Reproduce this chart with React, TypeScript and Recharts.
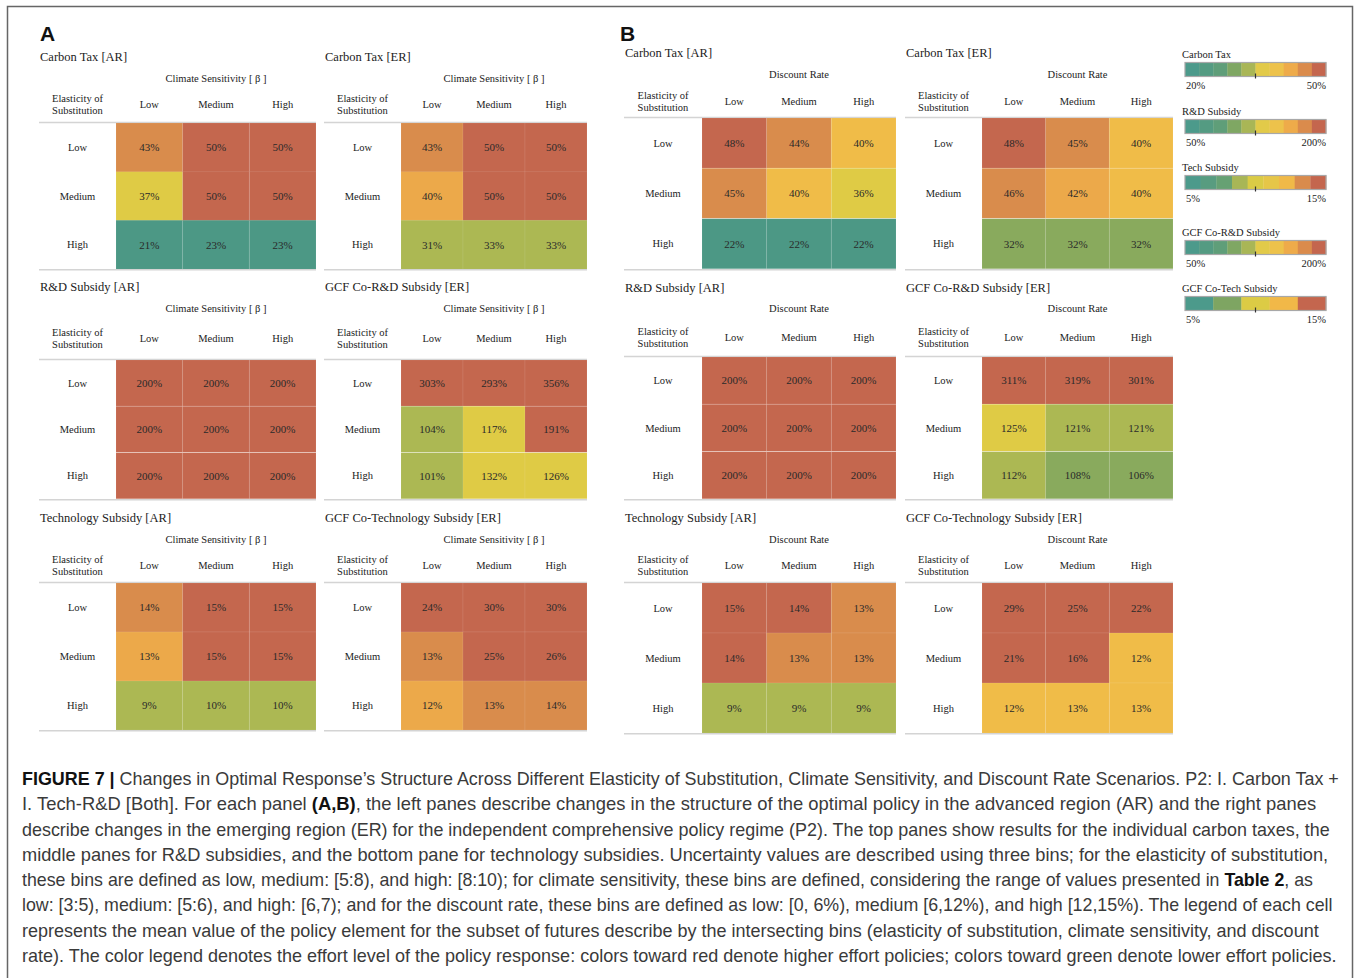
import React from "react"
import { Bar, BarChart, Cell, LabelList, XAxis, YAxis } from "recharts"

// bins shared by every pane
const rowBins = ["Low", "Medium", "High"]
const colBins = ["Low", "Medium", "High"]

// panel A: elasticity of substitution x climate sensitivity
const carbonTaxAR_A = [[43, 50, 50], [37, 50, 50], [21, 23, 23]]
const carbonTaxER_A = [[43, 50, 50], [40, 50, 50], [31, 33, 33]]
const rdSubsidyAR_A = [[200, 200, 200], [200, 200, 200], [200, 200, 200]]
const gcfRdER_A = [[303, 293, 356], [104, 117, 191], [101, 132, 126]]
const techSubsidyAR_A = [[14, 15, 15], [13, 15, 15], [9, 10, 10]]
const gcfTechER_A = [[24, 30, 30], [13, 25, 26], [12, 13, 14]]

// panel B: elasticity of substitution x discount rate
const carbonTaxAR_B = [[48, 44, 40], [45, 40, 36], [22, 22, 22]]
const carbonTaxER_B = [[48, 45, 40], [46, 42, 40], [32, 32, 32]]
const rdSubsidyAR_B = [[200, 200, 200], [200, 200, 200], [200, 200, 200]]
const gcfRdER_B = [[311, 319, 301], [125, 121, 121], [112, 108, 106]]
const techSubsidyAR_B = [[15, 14, 13], [14, 13, 13], [9, 9, 9]]
const gcfTechER_B = [[29, 25, 22], [21, 16, 12], [12, 13, 13]]

const palette = [
  "#4c9885", "#559b80", "#62a076", "#89aa5d", "#acb853",
  "#dfcb45", "#f0bc48", "#eca94a", "#d98c4c", "#c4674e",
]
const legendTen = [
  "#4c9a8b", "#549b82", "#5f9e79", "#7fa763", "#a9b656",
  "#e2ca49", "#edc24b", "#eeab4a", "#da8b4c", "#c4664e",
]
const legendNine = [
  "#4c9a8b", "#589c80", "#66a173", "#a8b656", "#dacb45",
  "#e6c648", "#f0b948", "#d98b4c", "#c4664e",
]
const legendFive = ["#4c9a8b", "#7ea562", "#dccb45", "#f1b848", "#c4664e"]

const SERIF = "'Liberation Serif', 'DejaVu Serif', serif"
const SANS = "'Liberation Sans', Arial, sans-serif"
const CAP_SIZE = 18

// stepped colour scale, one of ten bins between lo and hi
const colorFor = (v: number, lo: number, hi: number) => {
  const t = Math.round(((v - lo) / (hi - lo)) * 9)
  return palette[Math.max(0, Math.min(9, t))]
}

const ctx = typeof document !== "undefined" ? document.createElement("canvas").getContext("2d") : null
const measure = (t: string, bold?: boolean) => {
  if (!ctx) return t.length * CAP_SIZE * 0.5
  ctx.font = `${bold ? "bold " : ""}${CAP_SIZE}px 'Liberation Sans', Arial, sans-serif`
  return ctx.measureText(t).width
}

type PaneDef = {
  x0: number
  cx0: number
  cx1: number
  yTitle: number
  yAxis: number
  yHead: number
  yLine: number
  yBottom: number
  title: string
  axisTitle: string
  values: number[][]
  domain: [number, number]
}

const colA1 = { x0: 39, cx0: 116, cx1: 316 }
const colA2 = { x0: 324, cx0: 401, cx1: 587 }
const colB1 = { x0: 624, cx0: 702, cx1: 896 }
const colB2 = { x0: 905, cx0: 982, cx1: 1173 }
const rowA1 = { yTitle: 57, yAxis: 78, yHead: 104, yLine: 123, yBottom: 269 }
const rowA2 = { yTitle: 287, yAxis: 308, yHead: 338, yLine: 360, yBottom: 499 }
const rowA3 = { yTitle: 518, yAxis: 539, yHead: 565, yLine: 583, yBottom: 730 }
const rowB1 = { yTitle: 53, yAxis: 74, yHead: 101, yLine: 118, yBottom: 269 }
const rowB2 = { yTitle: 288, yAxis: 308, yHead: 337, yLine: 357, yBottom: 499 }
const rowB3 = { yTitle: 518, yAxis: 539, yHead: 565, yLine: 583, yBottom: 733 }

const CS = "Climate Sensitivity [ \u03b2 ]"
const DR = "Discount Rate"

const panes: PaneDef[] = [
  { ...colA1, ...rowA1, title: "Carbon Tax [AR]", axisTitle: CS, values: carbonTaxAR_A, domain: [27, 45] },
  { ...colA2, ...rowA1, title: "Carbon Tax [ER]", axisTitle: CS, values: carbonTaxER_A, domain: [22, 44.5] },
  { ...colA1, ...rowA2, title: "R&D Subsidy [AR]", axisTitle: CS, values: rdSubsidyAR_A, domain: [50, 200] },
  { ...colA2, ...rowA2, title: "GCF Co-R&D Subsidy [ER]", axisTitle: CS, values: gcfRdER_A, domain: [33.4, 197] },
  { ...colA1, ...rowA3, title: "Technology Subsidy [AR]", axisTitle: CS, values: techSubsidyAR_A, domain: [5.05, 15.05] },
  { ...colA2, ...rowA3, title: "GCF Co-Technology Subsidy [ER]", axisTitle: CS, values: gcfTechER_A, domain: [2.14, 15] },
  { ...colB1, ...rowB1, title: "Carbon Tax [AR]", axisTitle: DR, values: carbonTaxAR_B, domain: [24.25, 46.75] },
  { ...colB2, ...rowB1, title: "Carbon Tax [ER]", axisTitle: DR, values: carbonTaxER_B, domain: [22.3, 48] },
  { ...colB1, ...rowB2, title: "R&D Subsidy [AR]", axisTitle: DR, values: rdSubsidyAR_B, domain: [50, 200] },
  { ...colB2, ...rowB2, title: "GCF Co-R&D Subsidy [ER]", axisTitle: DR, values: gcfRdER_B, domain: [76.5, 166.5] },
  { ...colB1, ...rowB3, title: "Technology Subsidy [AR]", axisTitle: DR, values: techSubsidyAR_B, domain: [5, 14] },
  { ...colB2, ...rowB3, title: "GCF Co-Technology Subsidy [ER]", axisTitle: DR, values: gcfTechER_B, domain: [5, 16.25] },
]

const legends = [
  { title: "Carbon Tax", lo: "20%", hi: "50%", colors: legendTen, y: 54 },
  { title: "R&D Subsidy", lo: "50%", hi: "200%", colors: legendTen, y: 111 },
  { title: "Tech Subsidy", lo: "5%", hi: "15%", colors: legendNine, y: 167 },
  { title: "GCF Co-R&D Subsidy", lo: "50%", hi: "200%", colors: legendTen, y: 232 },
  { title: "GCF Co-Tech Subsidy", lo: "5%", hi: "15%", colors: legendFive, y: 288 },
]

type Seg = { t: string; b?: boolean }
const caption: { segs: Seg[]; end: number }[] = [
  {
    segs: [
      { t: "FIGURE 7 |", b: true },
      { t: " Changes in Optimal Response\u2019s Structure Across Different Elasticity of Substitution, Climate Sensitivity, and Discount Rate Scenarios. P2: I. Carbon Tax +" },
    ],
    end: 1341,
  },
  {
    segs: [
      { t: "I. Tech-R&D [Both]. For each panel " },
      { t: "(A,B)", b: true },
      { t: ", the left panes describe changes in the structure of the optimal policy in the advanced region (AR) and the right panes" },
    ],
    end: 1317,
  },
  {
    segs: [{ t: "describe changes in the emerging region (ER) for the independent comprehensive policy regime (P2). The top panes show results for the individual carbon taxes, the" }],
    end: 1331,
  },
  {
    segs: [{ t: "middle panes for R&D subsidies, and the bottom pane for technology subsidies. Uncertainty values are described using three bins; for the elasticity of substitution," }],
    end: 1329,
  },
  {
    segs: [
      { t: "these bins are defined as low, medium: [5:8), and high: [8:10); for climate sensitivity, these bins are defined, considering the range of values presented in " },
      { t: "Table 2", b: true },
      { t: ", as" },
    ],
    end: 1314,
  },
  {
    segs: [{ t: "low: [3:5), medium: [5:6), and high: [6,7); and for the discount rate, these bins are defined as low: [0, 6%), medium [6,12%), and high [12,15%). The legend of each cell" }],
    end: 1334,
  },
  {
    segs: [{ t: "represents the mean value of the policy element for the subset of futures describe by the intersecting bins (elasticity of substitution, climate sensitivity, and discount" }],
    end: 1319,
  },
  {
    segs: [{ t: "rate). The color legend denotes the effort level of the policy response: colors toward red denote higher effort policies; colors toward green denote lower effort policies." }],
    end: 1338,
  },
]
const captionY = [779, 804, 830, 855, 880, 905, 931, 956]

const HEAD_H = 40

const Pane = ({ p }: { p: PaneDef }) => {
  const top = p.yLine - HEAD_H
  const w = p.cx1 - p.x0
  const h = p.yBottom - top
  const labelW = p.cx0 - p.x0
  const rows = rowBins.map((r, i) => ({
    row: r,
    w0: 1,
    w1: 1,
    w2: 1,
    v0: p.values[i][0],
    v1: p.values[i][1],
    v2: p.values[i][2],
  }))
  return (
    <div style={{ position: "absolute", left: p.x0, top, width: w, height: h }}>
      <BarChart
        width={w}
        height={h}
        data={rows}
        layout="vertical"
        margin={{ top: 0, right: 0, bottom: 0, left: 0 }}
        barCategoryGap={0}
        barGap={0}
      >
        <XAxis
          type="number"
          domain={[0, 3]}
          orientation="top"
          height={HEAD_H}
          ticks={[0.5, 1.5, 2.5]}
          axisLine={false}
          tickLine={false}
          tick={(t: any) => (
            <text
              x={t.x}
              y={p.yHead - top}
              textAnchor="middle"
              dominantBaseline="central"
              fontFamily={SERIF}
              fontSize={10.5}
              fill="#222"
            >
              {colBins[Math.floor(t.payload.value)]}
            </text>
          )}
        />
        <YAxis
          type="category"
          dataKey="row"
          width={labelW}
          axisLine={false}
          tickLine={false}
          tick={(t: any) => (
            <text
              x={labelW / 2}
              y={t.y}
              textAnchor="middle"
              dominantBaseline="central"
              fontFamily={SERIF}
              fontSize={10.5}
              fill="#222"
            >
              {t.payload.value}
            </text>
          )}
        />
        {[0, 1, 2].map((j) => (
          <Bar key={j} dataKey={`w${j}`} stackId="g" isAnimationActive={false} stroke="rgba(255,255,255,0.07)">
            {rows.map((_, i) => (
              <Cell key={i} fill={colorFor(p.values[i][j], p.domain[0], p.domain[1])} />
            ))}
            <LabelList
              dataKey={`v${j}`}
              position="center"
              formatter={(v: any) => `${v}%`}
              fill="#2a2a2a"
              fontSize={11}
              fontFamily={SERIF}
            />
          </Bar>
        ))}
      </BarChart>
    </div>
  )
}

const CaptionLine = ({ segs, end, y }: { segs: Seg[]; end: number; y: number }) => {
  const natural = segs.reduce((s, g) => s + measure(g.t, g.b), 0)
  const sx = (end - 22) / natural
  return (
    <g transform={`translate(22 ${y}) scale(${sx} 1)`}>
      <text x={0} y={0} dominantBaseline="central" fontFamily={SANS} fontSize={CAP_SIZE} fill="#3a3a3a" style={{ whiteSpace: "pre" }}>
        {segs.map((s, i) => (
          <tspan key={i} fontWeight={s.b ? "bold" : "normal"} fill={s.b ? "#111" : "#3a3a3a"}>
            {s.t}
          </tspan>
        ))}
      </text>
    </g>
  )
}

const Frame = () => (
  <svg width={1357} height={978} style={{ position: "absolute", left: 0, top: 0 }}>
    <rect x={7.5} y={6.5} width={1345} height={990} fill="none" stroke="#666" strokeWidth={1.5} />
    <text x={40} y={33} dominantBaseline="central" fontFamily={SANS} fontWeight="bold" fontSize={21} fill="#111">
      A
    </text>
    <text x={620} y={33} dominantBaseline="central" fontFamily={SANS} fontWeight="bold" fontSize={21} fill="#111">
      B
    </text>
    {panes.map((p, k) => (
      <g key={k} fontFamily={SERIF} fill="#222">
        <text x={p.x0 + 1} y={p.yTitle} dominantBaseline="central" fontSize={12.5}>
          {p.title}
        </text>
        <text x={(p.cx0 + p.cx1) / 2} y={p.yAxis} textAnchor="middle" dominantBaseline="central" fontSize={10.5}>
          {p.axisTitle}
        </text>
        <text x={(p.x0 + p.cx0) / 2} y={p.yHead - 6} textAnchor="middle" dominantBaseline="central" fontSize={10.5}>
          Elasticity of
        </text>
        <text x={(p.x0 + p.cx0) / 2} y={p.yHead + 6} textAnchor="middle" dominantBaseline="central" fontSize={10.5}>
          Substitution
        </text>
        <line x1={p.x0} x2={p.cx1} y1={p.yLine - 0.5} y2={p.yLine - 0.5} stroke="#d4d4d4" strokeWidth={1.5} />
        <line x1={p.x0} x2={p.cx1} y1={p.yBottom + 0.75} y2={p.yBottom + 0.75} stroke="#d4d4d4" strokeWidth={1.5} />
      </g>
    ))}
    {legends.map((l, k) => {
      const x0 = 1185
      const x1 = 1326
      const sw = (x1 - x0) / l.colors.length
      const by = l.y + 8.5
      return (
        <g key={k} fontFamily={SERIF} fill="#222" fontSize={10.5}>
          <text x={1182} y={l.y} dominantBaseline="central">
            {l.title}
          </text>
          {l.colors.map((c, i) => (
            <rect key={i} x={x0 + i * sw} y={by} width={sw + 0.3} height={14} fill={c} />
          ))}
          <rect x={x0} y={by} width={x1 - x0} height={14} fill="none" stroke="#a8a8a8" strokeWidth={1.2} />
          <line x1={1255.5} x2={1255.5} y1={by + 11} y2={by + 16} stroke="#333" strokeWidth={1.2} />
          <text x={1186} y={l.y + 31} dominantBaseline="central">
            {l.lo}
          </text>
          <text x={1326} y={l.y + 31} textAnchor="end" dominantBaseline="central">
            {l.hi}
          </text>
        </g>
      )
    })}
    {caption.map((line, k) => (
      <CaptionLine key={k} segs={line.segs} end={line.end} y={captionY[k]} />
    ))}
  </svg>
)

export default function App() {
  return (
    <div style={{ position: "absolute", left: 0, top: 0, width: 1357, height: 978, background: "#fff", overflow: "hidden" }}>
      <Frame />
      {panes.map((p, k) => (
        <Pane key={k} p={p} />
      ))}
    </div>
  )
}
